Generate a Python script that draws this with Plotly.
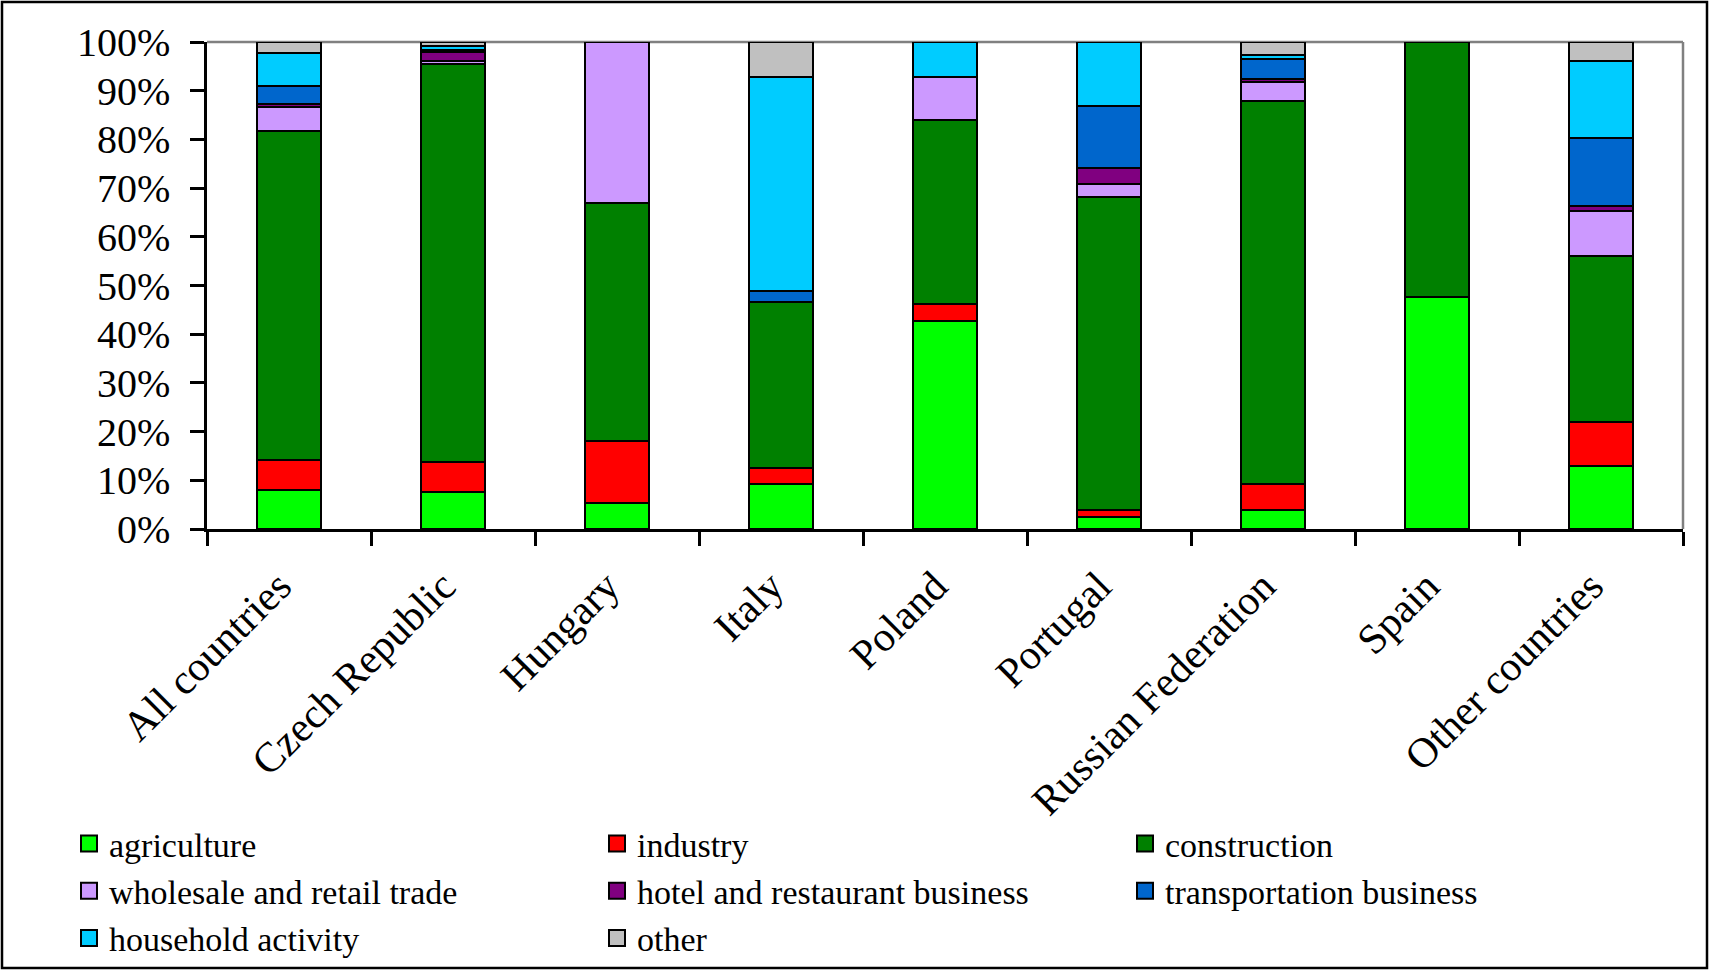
import plotly.graph_objects as go

categories = ["All countries", "Czech Republic", "Hungary", "Italy", "Poland",
              "Portugal", "Russian Federation", "Spain", "Other countries"]

agriculture = [8.0, 7.5, 5.4, 9.2, 42.8, 2.5, 3.8, 47.7, 13.0]
industry = [6.2, 6.2, 12.7, 3.4, 3.4, 1.3, 5.4, 0.0, 8.9]
construction = [67.6, 81.8, 48.9, 34.0, 37.8, 64.3, 78.6, 52.3, 34.1]
wholesale = [4.8, 0.6, 33.0, 0.0, 8.9, 2.7, 4.0, 0.0, 9.2]
hotel = [0.7, 1.8, 0.0, 0.0, 0.0, 3.4, 0.6, 0.0, 1.2]
transport = [3.7, 0.5, 0.0, 2.2, 0.0, 12.6, 4.2, 0.0, 13.8]
household = [6.7, 0.8, 0.0, 44.1, 7.1, 13.2, 0.8, 0.0, 15.8]
other = [2.3, 0.8, 0.0, 7.1, 0.0, 0.0, 2.6, 0.0, 4.0]

series_names = ["agriculture", "industry", "construction", "wholesale and retail trade",
                "hotel and restaurant business", "transportation business",
                "household activity", "other"]
series_values = [agriculture, industry, construction, wholesale, hotel, transport, household, other]
colors = ["#00FF00", "#FF0000", "#008000", "#CC99FF", "#800080", "#0066CC", "#00CCFF", "#C0C0C0"]

FONT = "Liberation Serif, Times New Roman, serif"

fig = go.Figure()
for name, vals, col in zip(series_names, series_values, colors):
    fig.add_trace(go.Bar(
        x=categories, y=vals, name=name, showlegend=False,
        marker=dict(color=col, line=dict(color="black", width=2)),
    ))
# legend proxies (larger square swatches)
for name, col in zip(series_names, colors):
    fig.add_trace(go.Scatter(
        x=[None], y=[None], mode="markers", name=name,
        marker=dict(symbol="square", size=16, color=col, line=dict(color="black", width=2)),
    ))

W, H = 1709, 970
L, R, T, B = 207, 26, 42, 441
pw = W - L - R
ph = H - T - B

fig.update_layout(
    width=W, height=H,
    margin=dict(l=L, r=R, t=T, b=B, pad=0, autoexpand=False),
    paper_bgcolor="white", plot_bgcolor="white",
    barmode="stack", bargap=0.61,
    font=dict(family=FONT, color="black"),
    legend=dict(
        orientation="h", xref="paper", yref="paper",
        x=(69 - L) / pw, xanchor="left",
        y=1 - (815 - T) / ph, yanchor="top",
        entrywidth=483, entrywidthmode="pixels",
        font=dict(family=FONT, size=34, color="black"),
        bgcolor="rgba(0,0,0,0)", traceorder="normal", itemclick=False,
    ),
    xaxis=dict(
        type="category", automargin=False, showline=True, linecolor="black", linewidth=2.5,
        ticks="outside", tickson="boundaries", ticklen=14, tickwidth=2.5, tickcolor="black",
        tickangle=-45, tickfont=dict(family=FONT, size=42, color="black"),
        showgrid=False, zeroline=False, ticklabelstandoff=13, ticklabelshift=-10,
    ),
    yaxis=dict(
        automargin=False, range=[0, 100], dtick=10, ticksuffix="%", showline=True,
        linecolor="black", linewidth=2.5, ticks="outside", ticklen=14, tickwidth=2.5,
        tickcolor="black", tickfont=dict(family=FONT, size=40, color="black"),
        showgrid=False, zeroline=False, ticklabelstandoff=12,
    ),
)

# grey plot-area border (top and right)
fig.add_shape(type="line", xref="paper", yref="paper", x0=0, x1=1, y0=1, y1=1,
              line=dict(color="#808080", width=2.5), layer="below")
fig.add_shape(type="line", xref="paper", yref="paper", x0=1, x1=1, y0=0, y1=1,
              line=dict(color="#808080", width=2.5), layer="below")
# outer chart frame
fig.add_shape(type="rect", xref="paper", yref="paper",
              x0=(2 - L) / pw, x1=(W - 2 - L) / pw,
              y0=1 - (H - 2 - T) / ph, y1=1 + (T - 2) / ph,
              line=dict(color="black", width=2.5), fillcolor="rgba(0,0,0,0)", layer="above")

fig.write_html("out.html", config={"displayModeBar": False},
               post_script="document.body.style.margin='0';document.body.style.overflow='hidden';")
